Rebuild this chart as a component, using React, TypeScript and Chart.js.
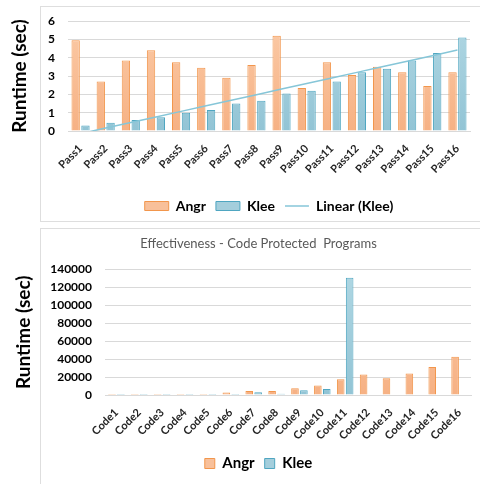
import React, { useEffect, useRef } from 'react';
import { Chart, registerables } from 'chart.js';

Chart.register(...registerables);

// ---------- data: top chart ----------
const passLabels = ['Pass1', 'Pass2', 'Pass3', 'Pass4', 'Pass5', 'Pass6', 'Pass7', 'Pass8', 'Pass9', 'Pass10', 'Pass11', 'Pass12', 'Pass13', 'Pass14', 'Pass15', 'Pass16'];
const passAngr = [4.95, 2.7, 3.85, 4.4, 3.75, 3.45, 2.9, 3.6, 5.2, 2.35, 3.75, 3.05, 3.5, 3.2, 2.45, 3.2];
const passKlee = [0.3, 0.45, 0.6, 0.75, 1.0, 1.15, 1.5, 1.65, 2.05, 2.2, 2.7, 3.2, 3.4, 3.85, 4.25, 5.1];
const passYTicks = [0, 1, 2, 3, 4, 5, 6];

// ---------- data: bottom chart ----------
const codeTitle = 'Effectiveness - Code Protected  Programs';
const codeLabels = ['Code1', 'Code2', 'Code3', 'Code4', 'Code5', 'Code6', 'Code7', 'Code8', 'Code9', 'Code10', 'Code11', 'Code12', 'Code13', 'Code14', 'Code15', 'Code16'];
const codeAngr = [1200, 1200, 1200, 1200, 1200, 2800, 4600, 4500, 7500, 10500, 17700, 23000, 18800, 24100, 31300, 42600];
const codeKlee = [1000, 1000, 1000, 1000, 1000, 1000, 3000, 1500, 5300, 6800, 131000, null, null, null, null, null];
const codeYTicks = [0, 20000, 40000, 60000, 80000, 100000, 120000, 140000];

const yTitle = 'Runtime (sec)';

// ---------- styles ----------
const FONT = 'Lato, "Open Sans", "DejaVu Sans", sans-serif';
const ORANGE_TOP = '#fbcaa6';
const ORANGE_BOT = '#f6b184';
const ORANGE = '#f8c09a';
const ORANGE_BORDER = '#f2964c';
const BLUE_TOP = '#b0d7e3';
const BLUE_BOT = '#92c4d5';
const BLUE = '#a4cedc';
const BLUE_BORDER = '#4fa6c1';
const TREND = '#86c6d8';
const GRID = '#d9d9d9';

function linearFit(ys: number[]): number[] {
  const n = ys.length;
  const xs = ys.map((_, i) => i + 1);
  const mx = xs.reduce((a, b) => a + b, 0) / n;
  const my = ys.reduce((a, b) => a + b, 0) / n;
  let sxy = 0;
  let sxx = 0;
  for (let i = 0; i < n; i++) {
    sxy += (xs[i] - mx) * (ys[i] - my);
    sxx += (xs[i] - mx) * (xs[i] - mx);
  }
  const b = sxy / sxx;
  const a = my - b * mx;
  return xs.map((x) => a + b * x);
}

function grad(top: string, bottom: string, solid: string) {
  return (ctx: any) => {
    const chart = ctx.chart;
    const area = chart.chartArea;
    if (!area) return solid;
    const g = chart.ctx.createLinearGradient(0, area.top, 0, area.bottom);
    g.addColorStop(0, top);
    g.addColorStop(1, bottom);
    return g;
  };
}

function ChartBox({ config, style }: { config: () => any; style: React.CSSProperties }) {
  const ref = useRef<HTMLCanvasElement>(null);
  useEffect(() => {
    const chart = new Chart(ref.current as HTMLCanvasElement, config());
    return () => chart.destroy();
  }, []);
  return (
    <div style={{ position: 'absolute', ...style }}>
      <canvas ref={ref} />
    </div>
  );
}

const xTickFont = { family: FONT, size: 11, weight: 'bold' as const };
const yTickFont = { family: FONT, size: 12, weight: 'bold' as const };
const yTitleFont = { family: FONT, size: 19, weight: 'bold' as const };

function topConfig() {
  return {
    type: 'bar',
    data: {
      labels: passLabels,
      datasets: [
        {
          type: 'bar',
          label: 'Angr',
          data: passAngr,
          backgroundColor: grad(ORANGE_TOP, ORANGE_BOT, ORANGE),
          borderColor: ORANGE_BORDER,
          borderWidth: 1,
          categoryPercentage: 0.78,
          barPercentage: 0.85,
          order: 2,
        },
        {
          type: 'bar',
          label: 'Klee',
          data: passKlee,
          backgroundColor: grad(BLUE_TOP, BLUE_BOT, BLUE),
          borderColor: BLUE_BORDER,
          borderWidth: 1,
          categoryPercentage: 0.78,
          barPercentage: 0.85,
          order: 2,
        },
        {
          type: 'line',
          label: 'Linear (Klee)',
          data: linearFit(passKlee),
          borderColor: TREND,
          backgroundColor: TREND,
          borderWidth: 1.5,
          pointRadius: 0,
          fill: false,
          order: 1,
        },
      ],
    },
    options: {
      animation: false,
      responsive: true,
      maintainAspectRatio: false,
      layout: { padding: { left: 0, right: 10, top: 21, bottom: 1 } },
      plugins: {
        tooltip: { enabled: false },
        legend: {
          position: 'bottom',
          fullSize: false,
          labels: {
            usePointStyle: true,
            pointStyleWidth: 24,
            boxHeight: 9,
            padding: 10,
            color: '#000',
            font: { family: FONT, size: 14, weight: 'bold' },
            sort: (a: any, b: any) => a.datasetIndex - b.datasetIndex,
            generateLabels: (chart: any) => {
              const items = Chart.defaults.plugins.legend.labels.generateLabels(chart);
              items.forEach((it: any) => {
                const i = it.datasetIndex;
                if (i === 0) { it.pointStyle = 'rect'; it.fillStyle = ORANGE; it.strokeStyle = ORANGE_BORDER; it.lineWidth = 1; }
                if (i === 1) { it.pointStyle = 'rect'; it.fillStyle = BLUE; it.strokeStyle = BLUE_BORDER; it.lineWidth = 1; }
                if (i === 2) { it.pointStyle = 'line'; it.strokeStyle = TREND; it.fillStyle = TREND; it.lineWidth = 1.5; }
              });
              return items;
            },
          },
        },
      },
      scales: {
        x: {
          grid: { display: false },
          border: { display: true, color: GRID },
          ticks: { autoSkip: false, maxRotation: 45, minRotation: 45, font: xTickFont, color: '#262626', padding: 3 },
          afterFit: (s: any) => { s.height = 58; },
        },
        y: {
          min: 0,
          max: 6,
          afterBuildTicks: (s: any) => { s.ticks = passYTicks.map((v) => ({ value: v })); },
          ticks: { font: yTickFont, color: '#000', padding: 13 },
          grid: { color: GRID, drawTicks: false },
          border: { display: false },
          title: { display: true, text: yTitle, color: '#000', font: yTitleFont, padding: { top: 8, bottom: 0 } },
          afterFit: (s: any) => { s.width = 68; },
        },
      },
    },
  };
}

function bottomConfig() {
  return {
    type: 'bar',
    data: {
      labels: codeLabels,
      datasets: [
        {
          label: 'Angr',
          data: codeAngr,
          backgroundColor: grad(ORANGE_TOP, ORANGE_BOT, ORANGE),
          borderColor: ORANGE_BORDER,
          borderWidth: 1,
          categoryPercentage: 0.78,
          barPercentage: 0.85,
        },
        {
          label: 'Klee',
          data: codeKlee,
          backgroundColor: grad(BLUE_TOP, BLUE_BOT, BLUE),
          borderColor: BLUE_BORDER,
          borderWidth: 1,
          categoryPercentage: 0.78,
          barPercentage: 0.85,
        },
      ],
    },
    options: {
      animation: false,
      responsive: true,
      maintainAspectRatio: false,
      layout: { padding: { left: 46, right: 9, top: 0, bottom: 3 } },
      plugins: {
        tooltip: { enabled: false },
        title: {
          display: true,
          text: codeTitle,
          color: '#595959',
          font: { family: FONT, size: 13, weight: 'normal' },
          padding: { top: 11, bottom: 18 },
        },
        legend: {
          position: 'bottom',
          labels: {
            boxWidth: 10,
            boxHeight: 10,
            padding: 10,
            color: '#000',
            font: { family: FONT, size: 15, weight: 'bold' },
            generateLabels: (chart: any) => {
              const items = Chart.defaults.plugins.legend.labels.generateLabels(chart);
              items.forEach((it: any) => {
                const i = it.datasetIndex;
                it.fillStyle = i === 0 ? ORANGE : BLUE;
                it.strokeStyle = i === 0 ? ORANGE_BORDER : BLUE_BORDER;
                it.lineWidth = 1;
              });
              return items;
            },
          },
        },
      },
      scales: {
        x: {
          grid: { display: false },
          border: { display: true, color: GRID },
          ticks: { autoSkip: false, maxRotation: 45, minRotation: 45, font: xTickFont, color: '#262626', padding: 3 },
          afterFit: (s: any) => { s.height = 51; },
        },
        y: {
          min: 0,
          max: 140000,
          afterBuildTicks: (s: any) => { s.ticks = codeYTicks.map((v) => ({ value: v })); },
          ticks: { font: yTickFont, color: '#000', padding: 13, callback: (v: any) => String(v) },
          grid: { color: GRID, drawTicks: false },
          border: { display: false },
          title: { display: true, text: yTitle, color: '#000', font: yTitleFont, padding: { top: -34, bottom: 0 } },
          afterFit: (s: any) => { s.width = 59; },
        },
      },
    },
  };
}

export default function App() {
  return (
    <div style={{ position: 'absolute', left: 0, top: 0, width: 480, height: 484, background: '#fff', overflow: 'hidden' }}>
      <div style={{ position: 'absolute', left: 40, top: 6, width: 440, height: 216, boxSizing: 'border-box', border: '1.5px solid #dedede', borderRight: 'none' }} />
      <div style={{ position: 'absolute', left: 40, top: 228, width: 440, height: 256, boxSizing: 'border-box', border: '1.5px solid #dedede', borderRight: 'none', borderBottom: 'none' }} />
      <ChartBox config={topConfig} style={{ left: 0, top: 0, width: 480, height: 224 }} />
      <ChartBox config={bottomConfig} style={{ left: 0, top: 225, width: 480, height: 259 }} />
    </div>
  );
}
